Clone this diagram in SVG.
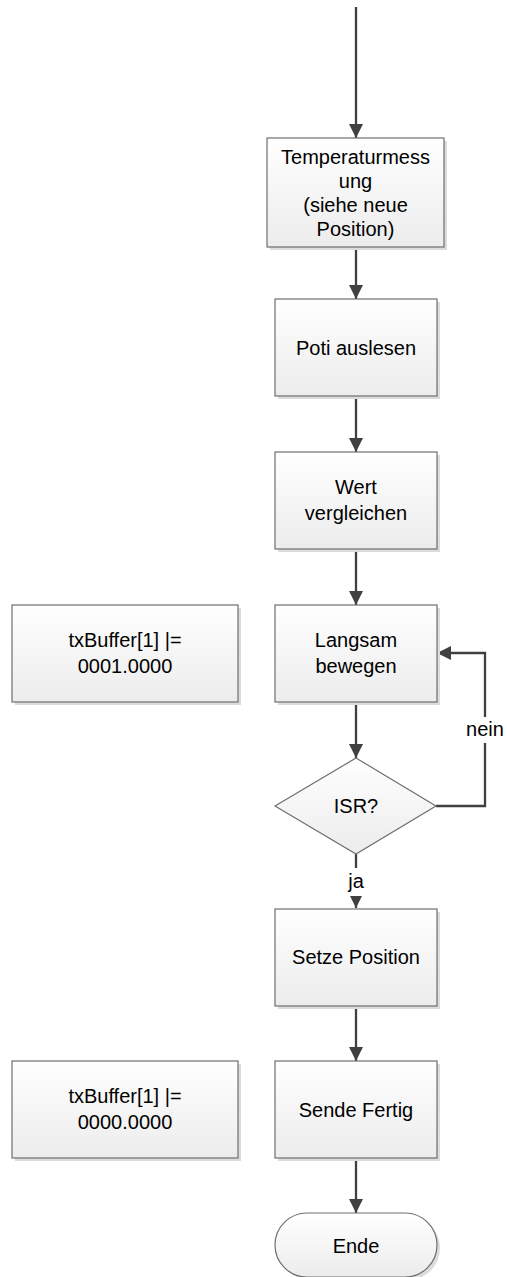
<svg xmlns="http://www.w3.org/2000/svg" width="507" height="1277" viewBox="0 0 507 1277">
  <style>
    .box { fill: url(#boxFill); stroke: #6f6f6f; stroke-width: 1.2; }
    .shadow { fill: #dcdcdc; }
    .label { font-family: "Liberation Sans", Arial, sans-serif; font-size: 20px; fill: #000; text-anchor: middle; }
    .edge { fill: none; stroke: #404040; stroke-width: 2.3; }
  </style>
  <defs>
    <linearGradient id="boxFill" x1="0" y1="0" x2="0" y2="1">
      <stop offset="0" stop-color="#ffffff"/>
      <stop offset="1" stop-color="#ececec"/>
    </linearGradient>
    <marker id="arrow" viewBox="0 0 14 14" refX="14" refY="7" markerWidth="14" markerHeight="14" markerUnits="userSpaceOnUse" orient="auto">
      <path d="M0,0 L14,7 L0,14 Z" fill="#404040"/>
    </marker>
  </defs>
  <rect width="507" height="1277" fill="#ffffff"/>

  <!-- connectors -->
  <g id="connectors">
    <path class="edge" d="M356,7 V138" marker-end="url(#arrow)"/>
    <path class="edge" d="M356,247 V299" marker-end="url(#arrow)"/>
    <path class="edge" d="M356,396 V452" marker-end="url(#arrow)"/>
    <path class="edge" d="M356,549 V605" marker-end="url(#arrow)"/>
    <path class="edge" d="M356,702 V758" marker-end="url(#arrow)"/>
    <path class="edge" d="M356,854 V908" marker-end="url(#arrow)"/>
    <path class="edge" d="M436,806 H485 V653 H437" marker-end="url(#arrow)"/>
    <path class="edge" d="M356,1006 V1061" marker-end="url(#arrow)"/>
    <path class="edge" d="M356,1158 V1213" marker-end="url(#arrow)"/>
    <!-- branch labels on a white ground -->
    <rect x="466" y="717" width="38" height="26" fill="#ffffff"/>
    <text class="label" x="485" y="736">nein</text>
    <rect x="344" y="868" width="24" height="28" fill="#ffffff"/>
    <text class="label" x="356" y="888">ja</text>
  </g>

  <g id="temperaturmessung">
    <rect class="shadow" x="270" y="141" width="177" height="109"/>
    <rect class="box" x="267" y="138" width="177" height="109"/>
    <text class="label" x="355.5" y="163.5">Temperaturmess</text>
    <text class="label" x="355.5" y="187.5">ung</text>
    <text class="label" x="355.5" y="211.5">(siehe neue</text>
    <text class="label" x="355.5" y="235.5">Position)</text>
  </g>

  <g id="poti">
    <rect class="shadow" x="278" y="302" width="162" height="97"/>
    <rect class="box" x="275" y="299" width="162" height="97"/>
    <text class="label" x="356" y="355">Poti auslesen</text>
  </g>

  <g id="wert">
    <rect class="shadow" x="278" y="455" width="162" height="97"/>
    <rect class="box" x="275" y="452" width="162" height="97"/>
    <text class="label" x="356" y="494">Wert</text>
    <text class="label" x="356" y="520">vergleichen</text>
  </g>

  <g id="langsam">
    <rect class="shadow" x="278" y="608" width="162" height="97"/>
    <rect class="box" x="275" y="605" width="162" height="97"/>
    <text class="label" x="356" y="647">Langsam</text>
    <text class="label" x="356" y="673">bewegen</text>
  </g>

  <g id="buffer1">
    <rect class="shadow" x="15" y="608" width="226" height="97"/>
    <rect class="box" x="12" y="605" width="226" height="97"/>
    <text class="label" x="125" y="647">txBuffer[1] |=</text>
    <text class="label" x="125" y="673">0001.0000</text>
  </g>

  <g id="isr">
    <polygon class="box" points="356,758 436,806 356,854 275,806"/>
    <text class="label" x="356" y="813">ISR?</text>
  </g>

  <g id="setze">
    <rect class="shadow" x="278" y="912" width="162" height="97"/>
    <rect class="box" x="275" y="909" width="162" height="97"/>
    <text class="label" x="356" y="964">Setze Position</text>
  </g>

  <g id="sende">
    <rect class="shadow" x="278" y="1064" width="162" height="97"/>
    <rect class="box" x="275" y="1061" width="162" height="97"/>
    <text class="label" x="356" y="1117">Sende Fertig</text>
  </g>

  <g id="buffer0">
    <rect class="shadow" x="15" y="1064" width="226" height="97"/>
    <rect class="box" x="12" y="1061" width="226" height="97"/>
    <text class="label" x="125" y="1103">txBuffer[1] |=</text>
    <text class="label" x="125" y="1129">0000.0000</text>
  </g>

  <g id="ende">
    <rect class="shadow" x="278" y="1216" width="162" height="64" rx="32"/>
    <rect class="box" x="275" y="1213" width="162" height="64" rx="32"/>
    <text class="label" x="356" y="1253">Ende</text>
  </g>
</svg>
